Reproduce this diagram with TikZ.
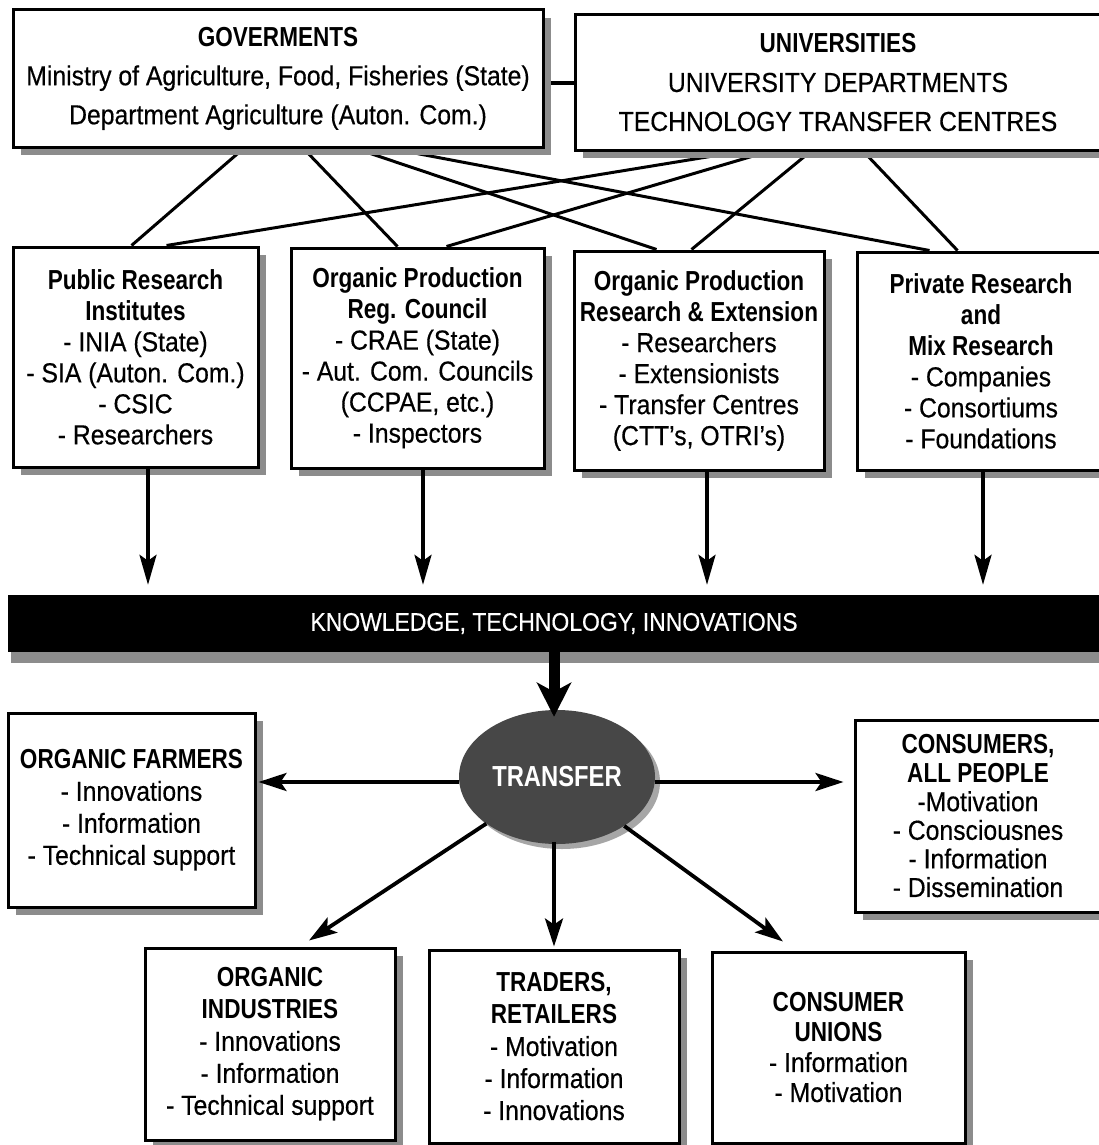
\documentclass[tikz,border=0pt]{standalone}
\usepackage{fontspec}
\setmainfont{Liberation Sans}[FakeStretch=0.9, FakeBold=0.4]
\newfontfamily\hdfont{Liberation Sans}[FakeStretch=0.82]
\newcommand\hdb{\hdfont\bfseries}
\usetikzlibrary{shadows,shapes.geometric,arrows.meta,backgrounds,calc}

\tikzset{
  box/.style={draw, line width=3pt, fill=white, align=center, inner sep=0pt,
    drop shadow={shadow xshift=8pt, shadow yshift=-8pt, fill=black!45, opacity=1}},
  rowone/.style={font=\fontsize{27.5}{39}\selectfont},
  rowtwo/.style={font=\fontsize{27.5}{31}\selectfont},
  rowlow/.style={font=\fontsize{27.5}{32}\selectfont},
  link/.style={line width=3pt},
  downarrow/.style={line width=3.5pt, -{Stealth[length=30pt, width=17pt, inset=6pt]}},
  bigarrow/.style={line width=11pt, -{Stealth[length=34pt, width=34pt, inset=9pt]}},
  outarrow/.style={line width=3.8pt, -{Stealth[length=28pt, width=18pt, inset=6pt]}}
}

\begin{document}
\begin{tikzpicture}[x=1pt, y=-1pt]
  \begin{scope}[on background layer]
    \fill[white] (0,0) rectangle (1098,1145);
  \end{scope}
  \useasboundingbox (0,0) rectangle (1098,1145);

  % top level bodies
  \node[box, rowone, minimum width=530, minimum height=137] (gov) at (278,78.5)
    {{\hdb GOVERMENTS}\\Ministry of Agriculture, Food, Fisheries (State)\\Department Agriculture (Auton. Com.)};
  \node[box, rowone, minimum width=526, minimum height=135] (uni) at (838,82.5)
    {{\hdb UNIVERSITIES}\\UNIVERSITY DEPARTMENTS\\TECHNOLOGY TRANSFER CENTRES};

  % research and regulation bodies
  \node[box, rowtwo, minimum width=245, minimum height=220] (pri) at (135.5,357)
    {{\hdb Public Research}\\{\hdb Institutes}\\- INIA (State)\\- SIA (Auton. Com.)\\- CSIC\\- Researchers};
  \node[box, rowtwo, minimum width=253, minimum height=220] (opc) at (417.5,358)
    {{\hdb Organic Production}\\{\hdb Reg. Council}\\- CRAE (State)\\- Aut. Com. Councils\\(CCPAE, etc.)\\- Inspectors};
  \node[box, rowtwo, minimum width=250, minimum height=219] (opr) at (699,360.5)
    {{\hdb Organic Production}\\{\hdb Research \& Extension}\\- Researchers\\- Extensionists\\- Transfer Centres\\(CTT’s, OTRI’s)};
  \node[box, rowtwo, minimum width=248, minimum height=218] (prv) at (981,361)
    {{\hdb Private Research}\\{\hdb and}\\{\hdb Mix Research}\\- Companies\\- Consortiums\\- Foundations};

  % knowledge band
  \node[fill=black, text=white, inner sep=0pt, minimum width=1092, minimum height=57,
    font=\fontsize{25.5}{30}\selectfont,
    drop shadow={shadow xshift=3pt, shadow yshift=-11pt, fill=black!45, opacity=1}]
    (bar) at (554,623.5) {KNOWLEDGE, TECHNOLOGY, INNOVATIONS};

  % transfer hub
  \node[ellipse, fill=black!72, text=white, inner sep=0pt, minimum width=196, minimum height=134,
    font=\hdb\fontsize{29}{32}\selectfont,
    drop shadow={shadow xshift=5pt, shadow yshift=-5pt, fill=black!35, opacity=1}]
    (tr) at (557,777) {TRANSFER};

  % receivers
  \node[box, rowlow, minimum width=247, minimum height=194] (farm) at (131.5,810)
    {{\hdb ORGANIC FARMERS}\\- Innovations\\- Information\\- Technical support};
  \node[box, font=\fontsize{27.5}{28.6}\selectfont, minimum width=246, minimum height=192] (cons) at (978,816)
    {{\hdb CONSUMERS,}\\{\hdb ALL PEOPLE}\\-Motivation\\- Consciousnes\\- Information\\- Dissemination};
  \node[box, rowlow, minimum width=250, minimum height=192] (ind) at (270,1044)
    {{\hdb ORGANIC}\\{\hdb INDUSTRIES}\\- Innovations\\- Information\\- Technical support};
  \node[box, rowlow, minimum width=250, minimum height=193] (trad) at (554,1046.5)
    {{\hdb TRADERS,}\\{\hdb RETAILERS}\\- Motivation\\- Information\\- Innovations};
  \node[box, font=\fontsize{27.5}{30}\selectfont, minimum width=253, minimum height=191] (cu) at (838.5,1047.5)
    {{\hdb CONSUMER}\\{\hdb UNIONS}\\- Information\\- Motivation};

  % links between top bodies and research bodies
  \begin{scope}[on background layer]
    \draw[link] ([xshift=232pt]gov.south west) -- ([xshift=120pt]pri.north west);
    \draw[link] ([xshift=292pt]gov.south west) -- ([xshift=108pt]opc.north west);
    \draw[link] ([xshift=344pt]gov.south west) -- ([xshift=84pt]opr.north west);
    \draw[link] ([xshift=379pt]gov.south west) -- ([xshift=74pt]prv.north west);
    \draw[link] ([xshift=167pt]uni.south west) -- ([xshift=155pt]pri.north west);
    \draw[link] ([xshift=195pt]uni.south west) -- ([xshift=157pt]opc.north west);
    \draw[link] ([xshift=237pt]uni.south west) -- ([xshift=119pt]opr.north west);
    \draw[link] ([xshift=290pt]uni.south west) -- ([xshift=102pt]prv.north west);
    \draw[line width=4pt] ([yshift=-4.5pt]gov.east) -- ([yshift=-4.5pt]gov.east -| uni.west);
  \end{scope}

  % research output into the knowledge band
  \draw[downarrow, shorten >=10pt] ([xshift=12.5pt]pri.south) -- ([xshift=12.5pt]pri.south |- bar.north);
  \draw[downarrow, shorten >=10pt] ([xshift=5.5pt]opc.south) -- ([xshift=5.5pt]opc.south |- bar.north);
  \draw[downarrow, shorten >=10pt] ([xshift=8pt]opr.south) -- ([xshift=8pt]opr.south |- bar.north);
  \draw[downarrow, shorten >=10pt] ([xshift=2pt]prv.south) -- ([xshift=2pt]prv.south |- bar.north);

  % knowledge into transfer
  \draw[bigarrow] (bar.south -| trad.north) -- ($(tr.north -| trad.north)+(0,7)$);

  % transfer to receivers
  \draw[outarrow] ($(tr.west)+(0,5)$) -- ($(tr.west -| farm.east)+(2,5)$);
  \draw[outarrow, shorten >=10pt] ($(tr.east)+(0,5)$) -- ($(tr.east -| cons.west)+(0,5)$);
  \draw[outarrow] (tr) -- ($(ind.north)+(39,-6)$);
  \draw[outarrow, shorten <=-2pt] (tr.south -| trad.north) -- ($(trad.north)+(0,-2)$);
  \draw[outarrow] (tr) -- ($(cu.north)+(-55.5,-9)$);
\end{tikzpicture}
\end{document}
